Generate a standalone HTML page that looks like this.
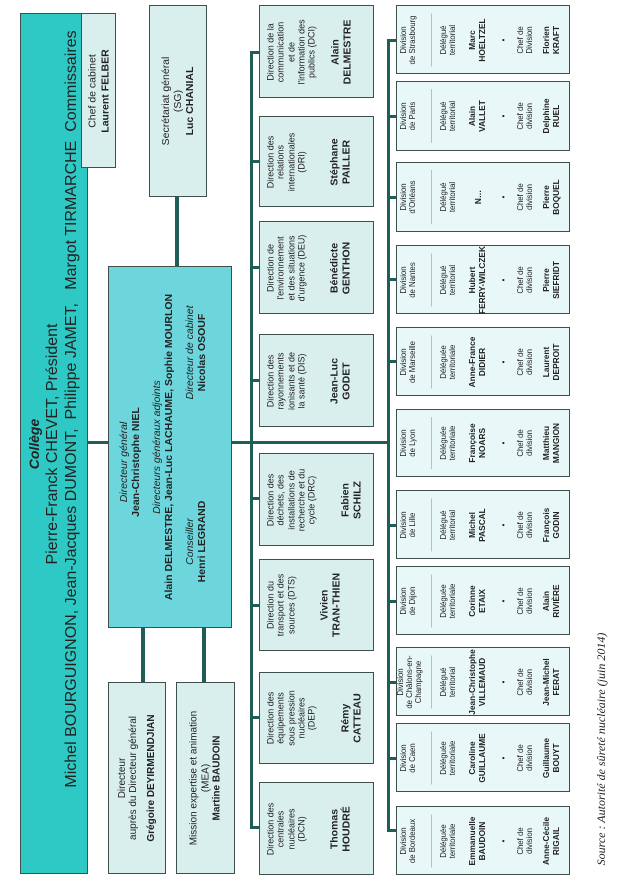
<!DOCTYPE html>
<html><head><meta charset="utf-8"><style>
*{margin:0;padding:0;box-sizing:border-box}
body{width:619px;height:880px;background:#fff;position:relative;overflow:hidden;font-family:"Liberation Sans",sans-serif;color:#222}
.b{position:absolute;border:1.5px solid #3f4f4c;}
.r{position:absolute;left:50%;top:50%;transform:translate(-50%,-50%) rotate(-90deg);display:flex;flex-direction:column;justify-content:center;align-items:center;text-align:center;line-height:1.15}
.ln{position:absolute;background:#1f5e58}
.lt{background:#d9efee}
.dv{background:#e8f8f8}
.d .r{font-size:9px;justify-content:flex-start;padding:6px 13px 0}
.d .r b{font-size:10.5px;display:block;margin-top:22px}
.v .r{font-size:7.8px;display:block}
.v .r div{position:absolute;left:0;right:0}
.v .r b{font-size:8.3px}
</style></head><body>

<div class="ln" style="left:88px;top:441px;width:300px;height:3px"></div>
<div class="ln" style="left:175px;top:197px;width:4px;height:70px"></div>
<div class="ln" style="left:141px;top:628px;width:4px;height:54px"></div>
<div class="ln" style="left:202px;top:628px;width:4px;height:54px"></div>
<div class="ln" style="left:250px;top:52px;width:3px;height:777px"></div>
<div class="ln" style="left:387px;top:39px;width:3px;height:792px"></div>

<div class="b" style="left:20px;top:13px;width:68px;height:861px;background:#2ec9c4">
 <div class="r" style="width:861px;height:68px;font-size:16px;line-height:1.2">
  <div style="font-weight:bold;font-style:italic;font-size:14px">Collège</div>
  <div>Pierre-Franck CHEVET, Président</div>
  <div style="white-space:pre;margin-left:70px">Michel BOURGUIGNON, Jean-Jacques DUMONT,  Philippe JAMET,   Margot TIRMARCHE  Commissaires</div>
 </div></div>
<div class="b lt" style="left:81px;top:13px;width:35px;height:155px">
 <div class="r" style="width:155px;height:35px;font-size:10.5px"><div>Chef de cabinet</div><div><b>Laurent FELBER</b></div></div></div>

<div class="b lt" style="left:149px;top:5px;width:58px;height:192px">
 <div class="r" style="width:192px;height:58px;font-size:10.5px"><div>Secrétariat général</div><div>(SG)</div><div><b>Luc CHANIAL</b></div></div></div>

<div class="b" style="left:108px;top:266px;width:124px;height:362px;background:#6dd6dc">
 <div class="r" style="width:362px;height:124px;font-size:10.5px;justify-content:flex-start;padding-top:10px">
  <div style="margin-left:-30px"><i>Directeur général</i><br><b>Jean-Christophe NIEL</b></div>
  <div style="margin-top:9px"><i>Directeurs généraux adjoints</i><br><b>Alain DELMESTRE, Jean-Luc LACHAUME, Sophie MOURLON</b></div>
  <div style="display:flex;width:100%;margin-top:9px"><div style="width:50%;padding-right:8px"><i>Conseiller</i><br><b>Henri LEGRAND</b></div><div style="width:50%;padding-left:8px"><i>Directeur de cabinet</i><br><b>Nicolas OSOUF</b></div></div>
 </div></div>

<div class="b lt" style="left:108px;top:682px;width:58px;height:192px">
 <div class="r" style="width:192px;height:58px;font-size:10px"><div>Directeur</div><div>auprès du Directeur général</div><div style="margin-top:6px"><b>Grégoire DEYIRMENDJIAN</b></div></div></div>
<div class="b lt" style="left:176px;top:682px;width:59px;height:192px">
 <div class="r" style="width:192px;height:59px;font-size:10px"><div>Mission expertise et animation</div><div>(MEA)</div><div><b>Martine BAUDOIN</b></div></div></div>

<div class="ln" style="left:250px;top:51px;width:10px;height:3px"></div>
<div class="ln" style="left:250px;top:160px;width:10px;height:3px"></div>
<div class="ln" style="left:250px;top:266px;width:10px;height:3px"></div>
<div class="ln" style="left:250px;top:379px;width:10px;height:3px"></div>
<div class="ln" style="left:250px;top:497px;width:10px;height:3px"></div>
<div class="ln" style="left:250px;top:604px;width:10px;height:3px"></div>
<div class="ln" style="left:250px;top:716px;width:10px;height:3px"></div>
<div class="ln" style="left:250px;top:826px;width:10px;height:3px"></div>

<div class="b lt d" style="left:259px;top:5px;width:115px;height:93px"><div class="r" style="width:93px;height:115px"><div>Direction de la communication et de l'information des publics (DCI)</div><b style="margin-top:12px">Alain<br>DELMESTRE</b></div></div>
<div class="b lt d" style="left:259px;top:116px;width:115px;height:91px"><div class="r" style="width:91px;height:115px"><div>Direction des relations internationales (DRI)</div><b>Stéphane<br>PAILLER</b></div></div>
<div class="b lt d" style="left:259px;top:221px;width:115px;height:93px"><div class="r" style="width:93px;height:115px"><div>Direction de l'environnement et des situations d'urgence (DEU)</div><b>Bénédicte<br>GENTHON</b></div></div>
<div class="b lt d" style="left:259px;top:334px;width:115px;height:93px"><div class="r" style="width:93px;height:115px"><div>Direction des rayonnements ionisants et de la santé (DIS)</div><b>Jean-Luc<br>GODET</b></div></div>
<div class="b lt d" style="left:259px;top:453px;width:115px;height:93px"><div class="r" style="width:93px;height:115px"><div>Direction des déchets, des installations de recherche et du cycle (DRC)</div><b>Fabien<br>SCHILZ</b></div></div>
<div class="b lt d" style="left:259px;top:559px;width:115px;height:92px"><div class="r" style="width:92px;height:115px"><div>Direction du transport et des sources (DTS)</div><b>Vivien<br>TRAN-THIEN</b></div></div>
<div class="b lt d" style="left:259px;top:672px;width:115px;height:92px"><div class="r" style="width:92px;height:115px"><div>Direction des équipements sous pression nucléaires (DEP)</div><b>Rémy<br>CATTEAU</b></div></div>
<div class="b lt d" style="left:259px;top:782px;width:115px;height:93px"><div class="r" style="width:93px;height:115px"><div>Direction des centrales nucléaires (DCN)</div><b>Thomas<br>HOUDRÉ</b></div></div>

<div class="ln" style="left:387px;top:39px;width:10px;height:3px"></div>
<div class="ln" style="left:387px;top:115px;width:10px;height:3px"></div>
<div class="ln" style="left:387px;top:196px;width:10px;height:3px"></div>
<div class="ln" style="left:387px;top:278px;width:10px;height:3px"></div>
<div class="ln" style="left:387px;top:360px;width:10px;height:3px"></div>
<div class="ln" style="left:387px;top:524px;width:10px;height:3px"></div>
<div class="ln" style="left:387px;top:600px;width:10px;height:3px"></div>
<div class="ln" style="left:387px;top:681px;width:10px;height:3px"></div>
<div class="ln" style="left:387px;top:757px;width:10px;height:3px"></div>
<div class="ln" style="left:387px;top:829px;width:10px;height:3px"></div>

<div class="b dv v" style="left:396px;top:5px;width:174px;height:69px"><div class="r" style="width:69px;height:174px">
<div style="top:4px">Division<br>de Strasbourg</div><div style="top:35px;left:8px;right:8px;height:1px;background:#8fd3cd"></div><div style="top:44px">Délégué<br>territorial</div><div style="top:72px"><b>Marc<br>HOELTZEL</b></div><div style="top:104px">•</div><div style="top:121px">Chef de<br>Division</div><div style="top:146px"><b>Florien<br>KRAFT</b></div></div></div>
<div class="b dv v" style="left:396px;top:81px;width:174px;height:70px"><div class="r" style="width:70px;height:174px">
<div style="top:4px">Division<br>de Paris</div><div style="top:35px;left:8px;right:8px;height:1px;background:#8fd3cd"></div><div style="top:44px">Délégué<br>territorial</div><div style="top:72px"><b>Alain<br>VALLET</b></div><div style="top:104px">•</div><div style="top:121px">Chef de<br>division</div><div style="top:146px"><b>Delphine<br>RUEL</b></div></div></div>
<div class="b dv v" style="left:396px;top:162px;width:174px;height:70px"><div class="r" style="width:70px;height:174px">
<div style="top:4px">Division<br>d'Orléans</div><div style="top:35px;left:8px;right:8px;height:1px;background:#8fd3cd"></div><div style="top:44px">Délégué<br>territorial</div><div style="top:78px"><b>N…</b></div><div style="top:104px">•</div><div style="top:121px">Chef de<br>division</div><div style="top:146px"><b>Pierre<br>BOQUEL</b></div></div></div>
<div class="b dv v" style="left:396px;top:245px;width:174px;height:69px"><div class="r" style="width:69px;height:174px">
<div style="top:4px">Division<br>de Nantes</div><div style="top:35px;left:8px;right:8px;height:1px;background:#8fd3cd"></div><div style="top:44px">Délégué<br>territorial</div><div style="top:72px;left:-12px;right:-12px"><b>Hubert<br>FERRY-WILCZEK</b></div><div style="top:104px">•</div><div style="top:121px">Chef de<br>division</div><div style="top:146px"><b>Pierre<br>SIEFRIDT</b></div></div></div>
<div class="b dv v" style="left:396px;top:327px;width:174px;height:69px"><div class="r" style="width:69px;height:174px">
<div style="top:4px">Division<br>de Marseille</div><div style="top:35px;left:8px;right:8px;height:1px;background:#8fd3cd"></div><div style="top:44px">Déléguée<br>territoriale</div><div style="top:72px"><b>Anne-France<br>DIDIER</b></div><div style="top:104px">•</div><div style="top:121px">Chef de<br>division</div><div style="top:146px"><b>Laurent<br>DEPROIT</b></div></div></div>
<div class="b dv v" style="left:396px;top:409px;width:174px;height:68px"><div class="r" style="width:68px;height:174px">
<div style="top:4px">Division<br>de Lyon</div><div style="top:35px;left:8px;right:8px;height:1px;background:#8fd3cd"></div><div style="top:44px">Déléguée<br>territoriale</div><div style="top:72px"><b>Françoise<br>NOARS</b></div><div style="top:104px">•</div><div style="top:121px">Chef de<br>division</div><div style="top:146px"><b>Matthieu<br>MANGION</b></div></div></div>
<div class="b dv v" style="left:396px;top:490px;width:174px;height:69px"><div class="r" style="width:69px;height:174px">
<div style="top:4px">Division<br>de Lille</div><div style="top:35px;left:8px;right:8px;height:1px;background:#8fd3cd"></div><div style="top:44px">Délégué<br>territorial</div><div style="top:72px"><b>Michel<br>PASCAL</b></div><div style="top:104px">•</div><div style="top:121px">Chef de<br>division</div><div style="top:146px"><b>François<br>GODIN</b></div></div></div>
<div class="b dv v" style="left:396px;top:566px;width:174px;height:69px"><div class="r" style="width:69px;height:174px">
<div style="top:4px">Division<br>de Dijon</div><div style="top:35px;left:8px;right:8px;height:1px;background:#8fd3cd"></div><div style="top:44px">Déléguée<br>territoriale</div><div style="top:72px"><b>Corinne<br>ETAIX</b></div><div style="top:104px">•</div><div style="top:121px">Chef de<br>division</div><div style="top:146px"><b>Alain<br>RIVIÈRE</b></div></div></div>
<div class="b dv v" style="left:396px;top:647px;width:174px;height:69px"><div class="r" style="width:69px;height:174px">
<div style="top:1px">Division<br>de Châlons-en-<br>Champagne</div><div style="top:35px;left:8px;right:8px;height:1px;background:#8fd3cd"></div><div style="top:44px">Délégué<br>territorial</div><div style="top:72px;left:-12px;right:-12px"><b>Jean-Christophe<br>VILLEMAUD</b></div><div style="top:104px">•</div><div style="top:121px">Chef de<br>division</div><div style="top:146px"><b>Jean-Michel<br>FERAT</b></div></div></div>
<div class="b dv v" style="left:396px;top:723px;width:174px;height:69px"><div class="r" style="width:69px;height:174px">
<div style="top:4px">Division<br>de Caen</div><div style="top:35px;left:8px;right:8px;height:1px;background:#8fd3cd"></div><div style="top:44px">Déléguée<br>territoriale</div><div style="top:72px"><b>Caroline<br>GUILLAUME</b></div><div style="top:104px">•</div><div style="top:121px">Chef de<br>division</div><div style="top:146px"><b>Guillaume<br>BOUYT</b></div></div></div>
<div class="b dv v" style="left:396px;top:806px;width:174px;height:69px"><div class="r" style="width:69px;height:174px">
<div style="top:4px">Division<br>de Bordeaux</div><div style="top:35px;left:8px;right:8px;height:1px;background:#8fd3cd"></div><div style="top:44px">Déléguée<br>territoriale</div><div style="top:72px"><b>Emmanuelle<br>BAUDOIN</b></div><div style="top:104px">•</div><div style="top:121px">Chef de<br>division</div><div style="top:146px"><b>Anne-Cécile<br>RIGAIL</b></div></div></div>

<div style="position:absolute;left:602px;top:749px;width:240px;height:16px;transform:translate(-50%,-50%) rotate(-90deg);font-family:'Liberation Serif',serif;font-style:italic;font-size:12px;white-space:nowrap;text-align:center">Source : Autorité de sûreté nucléaire (juin 2014)</div>
</body></html>
